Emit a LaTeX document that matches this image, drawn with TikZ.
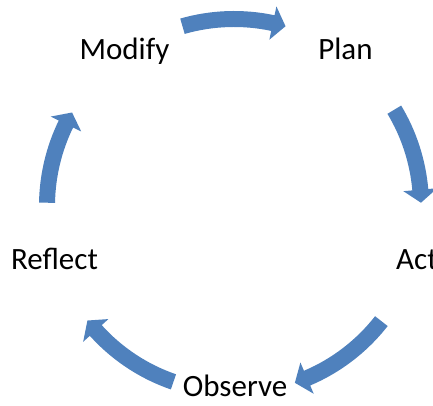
\documentclass[tikz,border=0pt]{standalone}
\usepackage{fontspec}
\setmainfont{Carlito}
\usepackage{xcolor}
\usetikzlibrary{positioning}
\definecolor{cycleblue}{HTML}{4F81BD}

\begin{document}
\begin{tikzpicture}[x=1pt,y=1pt]
        \tikzstyle{every node}+=[inner sep=0pt]
        \tikzstyle{stage}=[font=\fontsize{31}{36}\selectfont, anchor=base]
        \tikzstyle{cyclearrow}=[fill=cycleblue, draw=none]
        \useasboundingbox (0,0) rectangle (433,406);
        \node [stage] (modify) at (124.5,346.5) {Modify};
        \node [stage] (plan) at (345.5,346.5) {Plan};
        \node [stage, anchor=base west] (act) at (396,136) {Act};
        \node [stage] (observe) at (235,9) {Observe};
        \node [stage] (reflect) at (54.5,136) {Reflect};
        \begin{scope}[shift={(234,200)}]
        \fill [cyclearrow] (106:195) arc (106:78:195) -- (78:204) -- (74:187) -- (78:170) -- (78:179) arc (78:106:179) -- cycle;
        \fill [cyclearrow] (31:195) arc (31:5:195) -- (5:204) -- (1:187) -- (5:170) -- (5:179) arc (5:31:179) -- cycle;
        \fill [cyclearrow] (-38:195) arc (-38:-67:195) -- (-67:204) -- (-71:187) -- (-67:170) -- (-67:179) arc (-67:-38:179) -- cycle;
        \fill [cyclearrow] (-109:194) arc (-109:-138:194) -- (-138:203) -- (-142:186) -- (-138:169) -- (-138:178) arc (-138:-109:178) -- cycle;
        \fill [cyclearrow] (179:195) arc (179:154:195) -- (154:204) -- (150:187) -- (154:170) -- (154:179) arc (154:179:179) -- cycle;
        \end{scope}
\end{tikzpicture}
\end{document}
